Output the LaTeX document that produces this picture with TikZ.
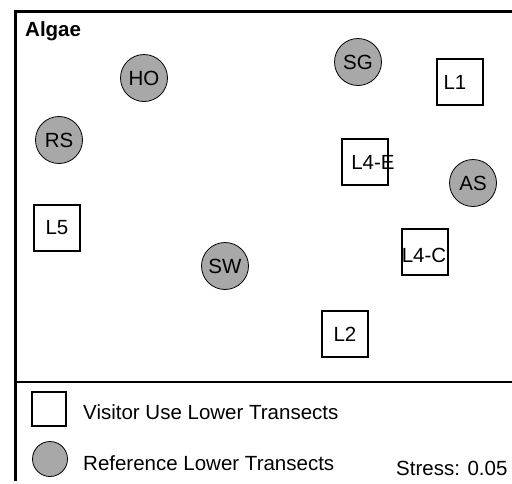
\documentclass[tikz,border=0pt]{standalone}
\usepackage{fontspec}
\setmainfont{Liberation Sans}
\definecolor{refgray}{RGB}{168,168,168}

\begin{document}
\begin{tikzpicture}[x=1pt,y=-1pt,
    every node/.style={font=\fontsize{20.5}{24}\selectfont},
    visit/.style={draw,line width=1.8pt,minimum size=46pt,inner sep=0pt},
    refer/.style={circle,draw,line width=0.8pt,fill=refgray,minimum size=47pt,inner sep=0pt},
    txt/.style={anchor=west,inner sep=0pt}]
  \useasboundingbox (0,0) rectangle (512,483);
  \draw[line width=3pt] (15,481) -- (15,11) -- (512,11);
  \draw[line width=2.5pt] (15,382) -- (512,382);
  \node[txt,font=\fontsize{20.5}{24}\selectfont\bfseries] (title) at (25,31) {Algae};
  \node[refer] (HO) at (144,78) {HO};
  \node[refer] (RS) at (59,140) {RS};
  \node[refer] (SG) at (358,62) {SG};
  \node[refer] (AS) at (473,183) {AS};
  \node[refer] (SW) at (225,266) {SW};
  \node[visit] (L5) at (57,228) {L5};
  \node[visit,label={[xshift=-5pt]center:L1}] (L1) at (460,82) {};
  \node[visit,label={[xshift=8pt]center:L4-E}] (L4E) at (365,162) {};
  \node[visit,label={[xshift=-1pt,yshift=-3pt]center:L4-C}] (L4C) at (425,252) {};
  \node[visit] (L2) at (345,334) {L2};
  \node[visit,minimum size=34pt] (keyV) at (49,409) {};
  \node[refer,minimum size=35pt] (keyR) at (50,459) {};
  \node[txt] (labV) at (83,412) {Visitor Use Lower Transects};
  \node[txt] (labR) at (83,463) {Reference Lower Transects};
  \node[txt] (stress) at (396,468) {Stress: 0.05};
\end{tikzpicture}
\end{document}
